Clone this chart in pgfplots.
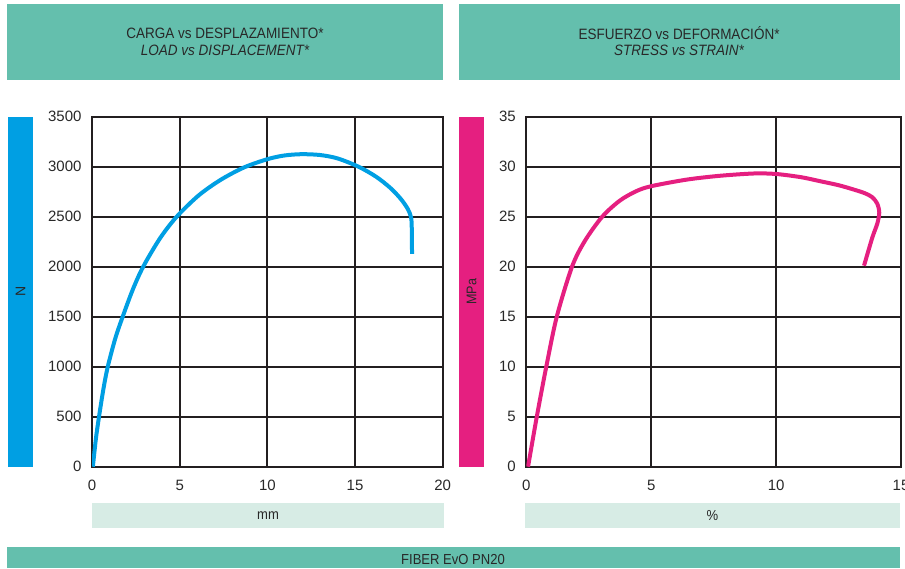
\documentclass[border=0pt]{standalone}
\usepackage{pgfplots}
\pgfplotsset{compat=1.18}
\usepackage{fontspec}
\setmainfont{Liberation Sans}
\definecolor{tealbox}{RGB}{100,191,173}
\definecolor{lightbox}{RGB}{215,236,229}
\definecolor{curveblue}{RGB}{0,159,227}
\definecolor{curvepink}{RGB}{229,31,128}
\definecolor{gridc}{RGB}{35,31,32}
\definecolor{txt}{RGB}{40,40,40}
\pgfplotsset{
  panel/.style={
    scale only axis, anchor=south west, height=350pt,
    ymin=0,
    grid=major,
    major grid style={line width=1.9pt, color=gridc},
    axis line style={line width=1.9pt, color=gridc},
    major tick length=0pt,
    tick label style={font=\fontsize{15}{16}\selectfont, text=txt},
    yticklabel style={xshift=-7pt},
    xticklabel style={yshift=-10pt},
    /pgf/number format/assume math mode=true,
    /pgf/number format/1000 sep={},
  }
}
\newcommand{\ttl}[1]{\scalebox{0.9}[1]{#1}}
\begin{document}
\begin{tikzpicture}
\useasboundingbox (0pt,0pt) rectangle (905pt,568pt);
% title boxes
\fill[tealbox] (7pt,488pt) rectangle (443pt,564pt);
\fill[tealbox] (459pt,488pt) rectangle (900pt,564pt);
\node[text=txt, font=\fontsize{15}{16}\selectfont] at (225pt,535pt) {\ttl{CARGA vs DESPLAZAMIENTO*}};
\node[text=txt, font=\fontsize{15}{16}\selectfont\itshape] at (225pt,518pt) {\ttl{LOAD vs DISPLACEMENT*}};
\node[text=txt, font=\fontsize{15}{16}\selectfont] at (679pt,535pt) {\ttl{ESFUERZO vs DEFORMACIÓN*}};
\node[text=txt, font=\fontsize{15}{16}\selectfont\itshape] at (679pt,518pt) {\ttl{STRESS vs STRAIN*}};
% side bars
\fill[curveblue] (8pt,101pt) rectangle (33pt,451.3pt);
\fill[curvepink] (459pt,101pt) rectangle (484pt,451.3pt);
\node[rotate=90, text=txt, font=\fontsize{14}{15}\selectfont] at (20.5pt,276.3pt) {N};
\node[rotate=90, text=txt, font=\fontsize{14}{15}\selectfont] at (471.5pt,276.3pt) {\ttl{MPa}};
% unit boxes
\fill[lightbox] (92pt,40.3pt) rectangle (444pt,65pt);
\fill[lightbox] (525pt,40.3pt) rectangle (900pt,65pt);
\node[text=txt, font=\fontsize{14.5}{15}\selectfont] at (268pt,52.6pt) {\ttl{mm}};
\node[text=txt, font=\fontsize{14.5}{15}\selectfont] at (712.5pt,52.6pt) {\ttl{\%}};
% bottom banner
\fill[tealbox] (7pt,0pt) rectangle (900pt,21pt);
\node[text=txt, font=\fontsize{14.5}{15}\selectfont] at (453pt,8.5pt) {\ttl{FIBER EvO PN20}};
% left panel
\begin{axis}[panel,
  at={(92pt,101.3pt)}, width=350.7pt,
  xmin=0, xmax=20, ymax=3500,
  xtick={0,5,10,15,20}, ytick={0,500,1000,1500,2000,2500,3000,3500}]
\addplot[curveblue, line width=4pt, smooth] coordinates {
(0.05,0) (0.225,284) (0.4,500) (0.65,776) (0.9,1000) (1.325,1281)
(1.75,1500) (2.33,1773) (2.92,2000) (3.875,2283) (4.83,2500)
(6.09,2714) (7.35,2870) (8.675,2993) (10.0,3075) (10.97,3112) (11.94,3125)
(13.0,3117) (14.0,3083) (15.2,3000) (16.2,2900) (17.0,2790) (17.6,2680)
(18.0,2580) (18.2,2490) (18.24,2350) (18.25,2128)};
\end{axis}
% right panel
\begin{axis}[panel,
  at={(526.3pt,101.3pt)}, width=374.7pt,
  xmin=0, xmax=15, ymax=35,
  xtick={0,5,10,15}, ytick={0,5,10,15,20,25,30,35}]
\addplot[curvepink, line width=4pt, smooth] coordinates {
(0.07,0) (0.42,5) (0.8,10) (1.22,15) (1.83,20) (2.35,22.6) (3.04,25)
(3.74,26.6) (4.4,27.55) (5.0,28.05) (6.4,28.7) (7.7,29.08) (9.1,29.32)
(10.0,29.27) (11.0,28.95) (11.76,28.55) (12.5,28.15) (13.1,27.72)
(13.55,27.35) (13.85,26.95) (14.05,26.3) (14.13,25.4) (14.05,24.3)
(13.85,22.9) (13.52,20.1)};
\end{axis}
\end{tikzpicture}
\end{document}
